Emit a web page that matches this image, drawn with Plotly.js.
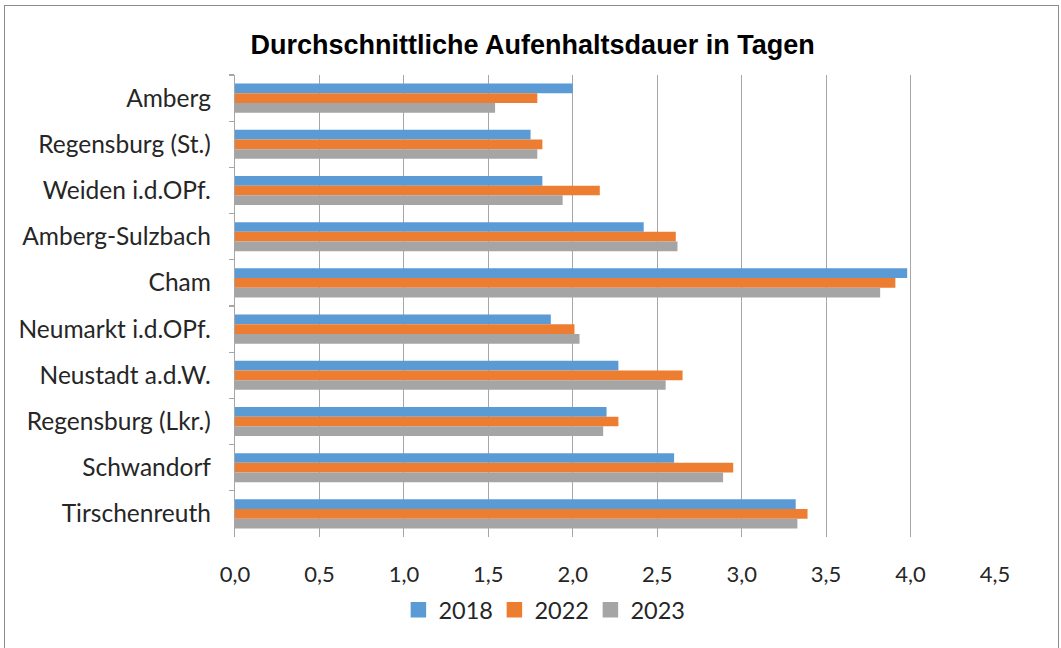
<!DOCTYPE html>
<html>
<head>
<meta charset="utf-8">
<script src="https://cdn.plot.ly/plotly-3.0.1.min.js"></script>
<style>
html,body{margin:0;padding:0;background:#fff;}
#frame{position:absolute;left:4px;top:5px;width:1053px;height:660px;border:1px solid #8c8c8c;}
#chart{position:absolute;left:0;top:0;width:1061px;height:648px;}
</style>
</head>
<body>
<div id="frame"></div>
<div id="chart"></div>
<script>
const categories = ["Amberg","Regensburg (St.)","Weiden i.d.OPf.","Amberg-Sulzbach","Cham","Neumarkt i.d.OPf.","Neustadt a.d.W.","Regensburg (Lkr.)","Schwandorf","Tirschenreuth"];
const values2018 = [2.00,1.75,1.82,2.42,3.98,1.87,2.27,2.20,2.60,3.32];
const values2022 = [1.79,1.82,2.16,2.61,3.91,2.01,2.65,2.27,2.95,3.39];
const values2023 = [1.54,1.79,1.94,2.62,3.82,2.04,2.55,2.18,2.89,3.33];
const seriesNames = ["2018","2022","2023"];
const colors = ["#5b9bd5","#ed7d31","#a5a5a5"];
const xTickVals = [0,0.5,1,1.5,2,2.5,3,3.5,4,4.5];
const xTickText = ["0,0","0,5","1,0","1,5","2,0","2,5","3,0","3,5","4,0","4,5"];

const allVals = [values2018, values2022, values2023];
const traces = allVals.map((v,i)=>({
  type:'bar', orientation:'h', name:seriesNames[i],
  y:categories, x:v, showlegend:false,
  marker:{color:colors[i], line:{width:0}},
  hoverinfo:'x+y'
}));
// legend entries with larger square swatches
seriesNames.forEach((n,i)=>traces.push({
  type:'scatter', mode:'markers', name:n, x:[null], y:[categories[0]],
  marker:{symbol:'square', size:14, color:colors[i], line:{width:1.5, color:colors[i]}},
  showlegend:true, hoverinfo:'skip'
}));

const fam = 'Lato, "Open Sans", sans-serif';
const layout = {
  width:1061, height:648,
  margin:{l:235, r:66, t:75, b:111},
  paper_bgcolor:'rgba(0,0,0,0)', plot_bgcolor:'rgba(0,0,0,0)',
  barmode:'group', bargap:0.37, bargroupgap:0,
  title:{text:'<b>Durchschnittliche Aufenhaltsdauer in Tagen</b>',
    font:{family:'"Liberation Sans", Arial, sans-serif', size:27, color:'#000'},
    x:0.502, xanchor:'center', xref:'container', y:0.931, yanchor:'middle', yref:'container'},
  xaxis:{range:[0,4.5], tickvals:xTickVals, ticktext:xTickText, showgrid:true,
    gridcolor:'#a6a6a6', gridwidth:1.2, zeroline:false, showline:false,
    ticks:'', ticklabelstandoff:22, tickfont:{family:fam, size:22, color:'#262626'}, fixedrange:true},
  yaxis:{type:'category', categoryarray:categories, range:[9.5,-0.5], autorange:false,
    showline:true, linecolor:'#a6a6a6', linewidth:1.2,
    ticks:'outside', tickson:'boundaries', ticklen:5, tickcolor:'#a6a6a6', tickwidth:1.2,
    ticklabelstandoff:18, tickfont:{family:fam, size:24.5, color:'#262626'}, showgrid:false, fixedrange:true},
  legend:{orientation:'h', x:0.215, xanchor:'left', y:-0.158, yanchor:'middle',
    font:{family:fam, size:23.5, color:'#262626'}, traceorder:'normal', itemwidth:30,
    entrywidth:51, entrywidthmode:'pixels'},
  showlegend:true
};
Plotly.newPlot('chart', traces, layout, {displayModeBar:false, staticPlot:true});
</script>
</body>
</html>
